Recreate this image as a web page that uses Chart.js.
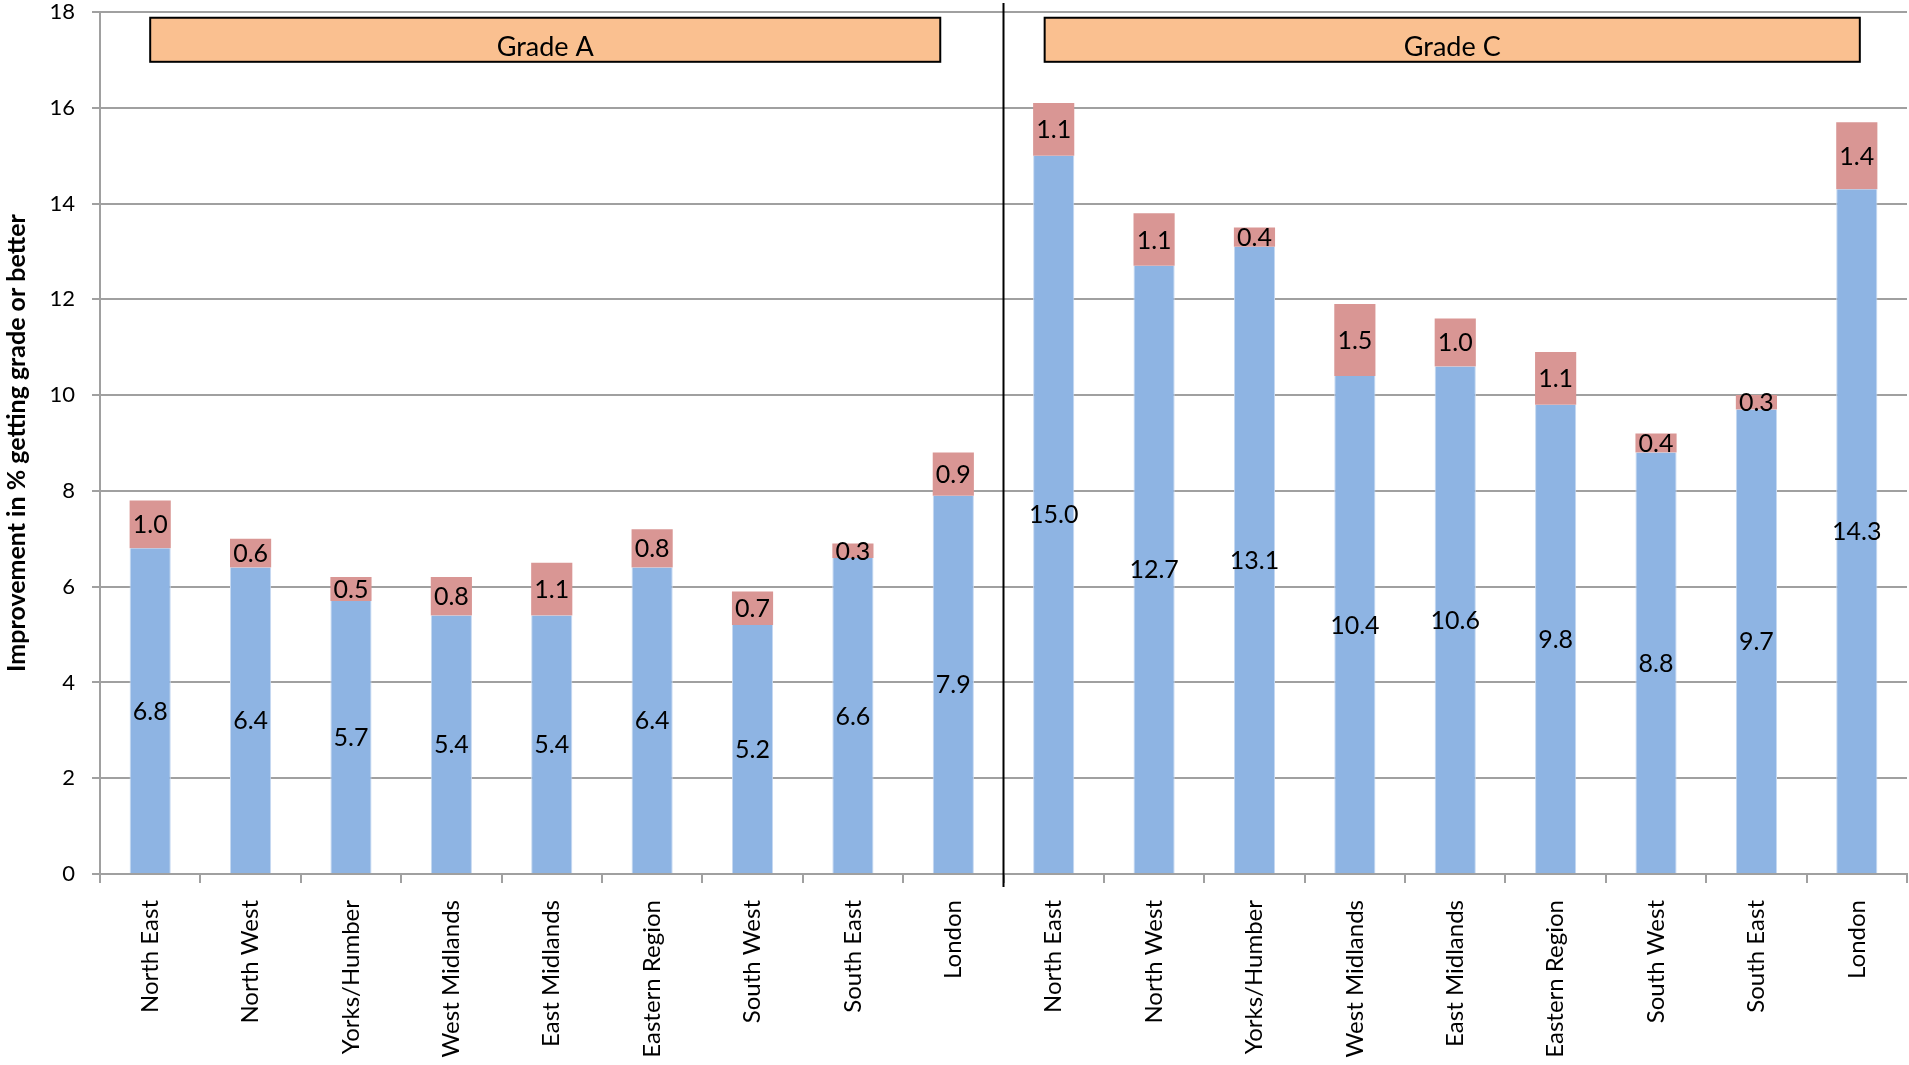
<!DOCTYPE html>
<html>
<head>
<meta charset="utf-8">
<script src="https://cdn.jsdelivr.net/npm/chart.js@4"></script>
<style>
    html, body { margin: 0; padding: 0; background: #fff; }
    #regionChart { display: block; }
</style>
</head>
<body>
<canvas id="regionChart" width="1909" height="1065"></canvas>
<script>
const regions = ['North East', 'North West', 'Yorks/Humber', 'West Midlands', 'East Midlands',
    'Eastern Region', 'South West', 'South East', 'London'];
const gradeABase = [6.8, 6.4, 5.7, 5.4, 5.4, 6.4, 5.2, 6.6, 7.9];
const gradeATop = [1.0, 0.6, 0.5, 0.8, 1.1, 0.8, 0.7, 0.3, 0.9];
const gradeCBase = [15.0, 12.7, 13.1, 10.4, 10.6, 9.8, 8.8, 9.7, 14.3];
const gradeCTop = [1.1, 1.1, 0.4, 1.5, 1.0, 1.1, 0.4, 0.3, 1.4];
const groupNames = ['Grade A', 'Grade C'];
const yTicks = [0, 2, 4, 6, 8, 10, 12, 14, 16, 18];

const FONT = 'Lato, "Open Sans", sans-serif';
const BLUE = '#8EB4E3';
const RED = '#D99694';
const GRID = '#a0a0a0';

// group header boxes, in category / value units
const headerBoxes = [
    { text: groupNames[0], from: 0.5, to: 8.37 },
    { text: groupNames[1], from: 9.41, to: 17.53 }
];
const headerTop = 17.88;
const headerBottom = 16.96;

const segmentLabels = {
    id: 'segmentLabels',
    afterDatasetsDraw(chart) {
        const ctx = chart.ctx;
        ctx.save();
        ctx.font = '25px ' + FONT;
        ctx.fillStyle = '#000';
        ctx.textAlign = 'center';
        ctx.textBaseline = 'middle';
        chart.data.datasets.forEach((ds, i) => {
            chart.getDatasetMeta(i).data.forEach((bar, j) => {
                const mid = (bar.y + bar.base) / 2;
                ctx.fillText(ds.data[j].toFixed(1), bar.x, mid + 1);
            });
        });
        ctx.restore();
    }
};

const groupDecor = {
    id: 'groupDecor',
    afterDraw(chart) {
        const ctx = chart.ctx;
        const x = chart.scales.x;
        const y = chart.scales.y;
        const w = (x.right - x.left) / (regions.length * 2);
        ctx.save();

        // divider between the two groups
        const sepX = x.left + w * regions.length;
        ctx.strokeStyle = '#000';
        ctx.lineWidth = 2;
        ctx.beginPath();
        ctx.moveTo(sepX, 3);
        ctx.lineTo(sepX, y.bottom + 13);
        ctx.stroke();

        headerBoxes.forEach(box => {
            const l = x.left + box.from * w;
            const r = x.left + box.to * w;
            const t = y.getPixelForValue(headerTop);
            const b = y.getPixelForValue(headerBottom);
            ctx.fillStyle = '#FAC090';
            ctx.fillRect(l, t, r - l, b - t);
            ctx.strokeStyle = '#000';
            ctx.lineWidth = 2;
            ctx.strokeRect(l, t, r - l, b - t);
            ctx.fillStyle = '#000';
            ctx.font = '27px ' + FONT;
            ctx.textAlign = 'center';
            ctx.textBaseline = 'alphabetic';
            ctx.fillText(box.text, (l + r) / 2, b - 6);
        });
        ctx.restore();
    }
};

new Chart(document.getElementById('regionChart'), {
    type: 'bar',
    data: {
        labels: regions.concat(regions),
        datasets: [
            {
                label: 'Improvement',
                data: gradeABase.concat(gradeCBase),
                backgroundColor: BLUE,
                borderColor: '#c6d9f1',
                borderWidth: { left: 1, right: 1, top: 0, bottom: 0 },
                barPercentage: 0.41,
                categoryPercentage: 1
            },
            {
                label: 'Extra',
                data: gradeATop.concat(gradeCTop),
                backgroundColor: RED,
                borderWidth: 0,
                barPercentage: 0.41,
                categoryPercentage: 1
            }
        ]
    },
    options: {
        responsive: false,
        animation: false,
        layout: { padding: { top: 12, right: 2, left: 0, bottom: 0 } },
        plugins: {
            legend: { display: false },
            tooltip: { enabled: false }
        },
        scales: {
            x: {
                stacked: true,
                afterFit: (s) => { s.height = 191; s.paddingLeft = 0; s.paddingRight = 0; },
                grid: {
                    display: true,
                    drawOnChartArea: false,
                    drawTicks: true,
                    tickLength: 9,
                    color: GRID,
                    lineWidth: 2,
                    offset: true
                },
                border: { display: true, color: GRID, width: 2 },
                ticks: {
                    autoSkip: false,
                    maxRotation: 90,
                    minRotation: 90,
                    padding: 17,
                    color: '#000',
                    font: { family: FONT, size: 24 }
                }
            },
            y: {
                stacked: true,
                min: 0,
                max: 18,
                afterFit: (s) => { s.width = 100; s.paddingTop = 0; s.paddingBottom = 0; },
                afterBuildTicks: (s) => { s.ticks = yTicks.map(v => ({ value: v })); },
                grid: {
                    color: GRID,
                    lineWidth: 2,
                    tickLength: 8
                },
                border: { display: true, color: GRID, width: 2 },
                ticks: {
                    padding: 17,
                    color: '#000',
                    font: { family: FONT, size: 22 }
                },
                title: {
                    display: true,
                    text: 'Improvement in % getting grade or better',
                    color: '#000',
                    font: { family: FONT, size: 25, weight: 'bold' },
                    padding: { top: 2, bottom: 0 }
                }
            }
        }
    },
    plugins: [segmentLabels, groupDecor]
});
</script>
</body>
</html>
